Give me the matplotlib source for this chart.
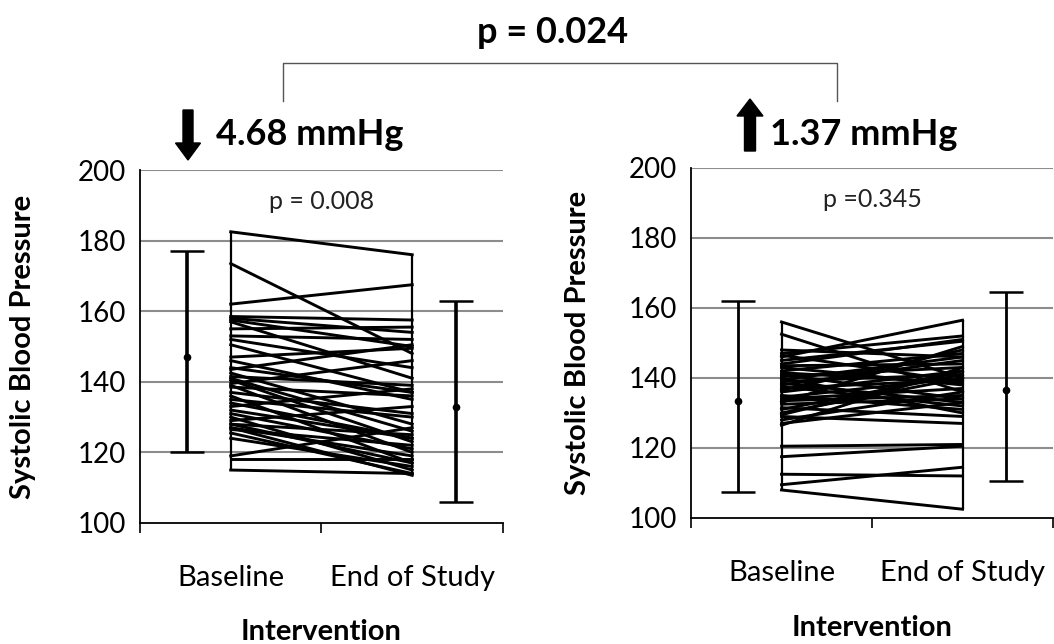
import matplotlib
matplotlib.use("Agg")
import matplotlib.pyplot as plt
from matplotlib.patches import FancyArrow
import numpy as np

plt.rcParams["font.family"] = ["Lato", "DejaVu Sans"]

# individual patients: baseline -> end of study (systolic BP)
left_base = [182.5, 173.5, 162, 158.5, 158, 157.5, 157, 155, 153, 152, 150.5, 147,
             146, 144, 143.5, 142.5, 141.5, 141, 140.5, 139.5, 139, 138.5, 137, 136,
             135, 134, 133, 132, 131, 130, 129, 128, 128, 127, 127, 126.5, 125.5,
             124, 119, 118, 115]
left_end = [176, 148, 167.5, 157.5, 154, 150, 141, 155.5, 152, 144, 137, 149.5,
            135, 137, 150.5, 128, 139, 126, 123, 146, 120, 136, 131, 117,
            130, 124, 138, 124, 121, 115, 133, 125, 117, 119, 113.5, 122, 114,
            116, 127, 118, 114]

right_base = [156, 152.5, 148, 147, 146.5, 146, 145, 144, 143.5, 143, 142, 141.5,
              141, 140.5, 140, 139.5, 139, 138.5, 138, 137.5, 137, 136.5, 136, 135,
              134.5, 134, 133.5, 133, 132.5, 131.5, 131, 130, 129.5, 129, 128, 127,
              126.5, 120.5, 117.5, 112.5, 109.5, 108]
right_end = [140, 136, 146, 152, 139, 156.5, 150.5, 151, 144, 138, 147, 138.5,
             134, 143, 130, 146, 141, 133, 145, 132, 139.5, 148, 142, 131,
             140, 137, 135, 149, 134, 129, 141, 140, 142, 127, 136, 133,
             143, 121, 120.5, 112, 114.5, 102.5]

# group mean with error bars (baseline, end)
left_mean = [147, 133]
left_lo = [120, 106]
left_hi = [177, 163]
right_mean = [133.5, 136.5]
right_lo = [107.5, 110.5]
right_hi = [162, 164.5]

categories = ["Baseline", "End of Study"]
yticks = [100, 120, 140, 160, 180, 200]

fig = plt.figure(figsize=(10.54, 6.44), dpi=100)

def panel(rect, base, end, mean, lo, hi, ptxt, ylab_x, cat_y, xlab_y, ebw):
    ax = fig.add_axes(rect)
    ax.set_xlim(0, 2)
    ax.set_ylim(100, 200)
    for y in yticks[1:]:
        ax.axhline(y, color="#8c8c8c", lw=1.5, zorder=0)
    for b, e in zip(base, end):
        ax.plot([0.5, 1.5], [b, e], color="black", lw=2.1, zorder=3)
    ax.vlines(0.5, min(base), max(base), color="black", lw=1.6, zorder=3)
    ax.vlines(1.5, min(end), max(end), color="black", lw=1.6, zorder=3)
    xe = [0.26, 1.74]
    m = np.array(mean)
    yerr = [m - np.array(lo), np.array(hi) - m]
    ax.errorbar(xe, m, yerr=yerr, fmt="o", color="black", ms=4.5, lw=ebw,
                capsize=12, capthick=1.8, zorder=4)
    for s in ["top", "right"]:
        ax.spines[s].set_visible(False)
    ax.spines["left"].set_linewidth(1.3)
    ax.spines["bottom"].set_linewidth(1.3)
    ax.set_yticks(yticks)
    ax.tick_params(axis="y", length=0, labelsize=20, pad=10)
    ax.set_xticks([0, 1, 2])
    ax.set_xticklabels([])
    ax.tick_params(axis="x", length=7, width=1.2, direction="out")
    ax.set_ylabel("Systolic Blood Pressure", fontsize=21, fontweight="bold")
    ax.yaxis.set_label_coords(ylab_x, 0.5)
    for x, c in zip([0.5, 1.5], categories):
        ax.text(x, cat_y, c, transform=ax.get_xaxis_transform(), ha="center",
                va="center", fontsize=21)
    ax.set_xlabel("Intervention", fontsize=21, fontweight="bold")
    ax.xaxis.set_label_coords(0.5, xlab_y)
    ax.xaxis.label.set_va("center")
    ax.yaxis.label.set_va("center")
    ax.text(1.0, 191, ptxt, ha="center", va="center", fontsize=18, color="#222222")
    return ax

panel([0.1328, 0.1879, 0.3444, 0.5481], left_base, left_end,
      left_mean, left_lo, left_hi, "p = 0.008", -0.322, -0.156, -0.309, 2.6)
panel([0.6556, 0.1957, 0.3435, 0.5435], right_base, right_end,
      right_mean, right_lo, right_hi, "p =0.345", -0.312, -0.157, -0.314, 2.0)

# overlay for the comparison bracket and change annotations
ov = fig.add_axes([0, 0, 1, 1])
ov.set_xlim(0, 1054)
ov.set_ylim(644, 0)
ov.axis("off")
ov.plot([283, 283, 837, 837], [101, 63, 63, 101], color="#555555", lw=1)
ov.text(553, 32, "p = 0.024", ha="center", va="center", fontsize=26, fontweight="bold")
ov.add_patch(FancyArrow(188, 110, 0, 50, width=10, head_width=25, head_length=17,
                        length_includes_head=True, color="black"))
ov.add_patch(FancyArrow(750, 151, 0, -52, width=11, head_width=26, head_length=17,
                        length_includes_head=True, color="black"))
ov.text(216, 134, "4.68 mmHg", ha="left", va="center", fontsize=26, fontweight="bold")
ov.text(770, 134, "1.37 mmHg", ha="left", va="center", fontsize=26, fontweight="bold")

fig.savefig("out.png", dpi=100)
